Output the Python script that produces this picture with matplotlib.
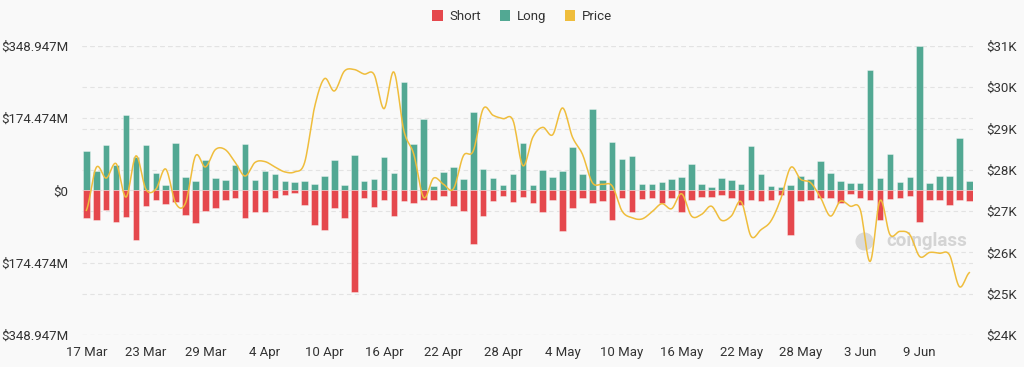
import numpy as np
import pandas as pd
import matplotlib
matplotlib.use("Agg")
import matplotlib.pyplot as plt
import matplotlib.dates as mdates
from matplotlib.patches import Patch

# daily liquidations (millions USD) and BTC price (thousands USD)
dates = pd.date_range("2023-03-17", "2023-06-14", freq="D")
long_vals = [95, 47, 109, 62, 183, 82, 109, 43, 14, 115,
             33, 24, 73, 30, 25, 62, 112, 26, 47, 40,
             24, 21, 23, 16, 36, 74, 14, 85, 22, 27,
             80, 43, 261, 112, 172, 11, 44, 57, 28, 189,
             51, 30, 14, 40, 114, 14, 49, 33, 46, 105,
             39, 196, 25, 117, 76, 83, 15, 16, 20, 28,
             33, 63, 16, 8, 30, 26, 15, 107, 40, 12,
             8, 14, 35, 28, 71, 43, 22, 18, 17, 292,
             31, 88, 21, 32, 349, 19, 36, 34, 127, 24]
short_vals = [66, 72, 47, 75, 63, 119, 37, 24, 33, 27,
              59, 79, 50, 43, 22, 17, 66, 51, 51, 17,
              12, 7, 34, 83, 95, 42, 67, 246, 19, 40,
              22, 61, 25, 31, 23, 24, 14, 38, 49, 129,
              61, 26, 14, 27, 16, 30, 51, 23, 97, 42,
              19, 30, 25, 71, 18, 51, 20, 18, 30, 18,
              52, 22, 16, 15, 10, 19, 34, 22, 26, 23,
              12, 108, 25, 24, 17, 18, 30, 8, 18, 23,
              72, 21, 18, 13, 75, 22, 23, 36, 22, 25]
price = [27.02, 28.06, 27.80, 28.15, 27.34, 28.34, 27.53, 27.53, 28.02, 27.19,
         27.20, 28.34, 28.07, 28.49, 28.49, 28.18, 27.85, 28.18, 28.20, 28.07,
         27.95, 27.95, 28.18, 29.52, 30.21, 29.91, 30.39, 30.43, 30.32, 30.31,
         29.48, 30.37, 28.95, 28.38, 27.33, 27.80, 27.65, 27.54, 28.34, 28.46,
         29.48, 29.32, 29.24, 29.20, 28.10, 28.79, 29.03, 28.85, 29.50, 28.79,
         28.38, 27.69, 27.65, 27.61, 27.00, 26.84, 26.81, 26.98, 27.18, 27.06,
         27.42, 26.88, 26.92, 27.12, 26.78, 26.88, 27.23, 26.39, 26.55, 26.76,
         27.30, 28.06, 27.77, 27.69, 27.33, 26.88, 27.24, 27.12, 27.04, 25.78,
         27.26, 26.43, 26.51, 26.43, 25.90, 26.00, 25.98, 25.94, 25.17, 25.51]

left_ticks = [-348.947, -174.474, 0, 174.474, 348.947]
right_ticks = [24, 25, 26, 27, 28, 29, 30, 31]

RED = "#e5484d"
GREEN = "#52a893"
YELLOW = "#efbd3c"
BG = "#f9f9f9"
TXT = "#333333"
GRID = "#e3e3e3"

plt.rcParams["font.family"] = ["Roboto", "DejaVu Sans"]


def smooth(x, y, k=12):
    # catmull-rom curve through the daily points, just for drawing
    x = np.asarray(x, float)
    y = np.asarray(y, float)
    yp = np.concatenate([[y[0]], y, [y[-1]]])
    t = np.linspace(0, 1, k, endpoint=False)
    xs, ys = [], []
    for i in range(len(y) - 1):
        p0, p1, p2, p3 = yp[i], yp[i + 1], yp[i + 2], yp[i + 3]
        seg = 0.5 * (2 * p1 + (-p0 + p2) * t + (2 * p0 - 5 * p1 + 4 * p2 - p3) * t ** 2
                     + (-p0 + 3 * p1 - 3 * p2 + p3) * t ** 3)
        xs.append(x[i] + (x[i + 1] - x[i]) * t)
        ys.append(seg)
    xs.append([x[-1]])
    ys.append([y[-1]])
    return np.concatenate(xs), np.concatenate(ys)


def money(v):
    if v == 0:
        return "$0"
    return "$%.3fM" % abs(v)


fig = plt.figure(figsize=(10.24, 3.67), dpi=100, facecolor=BG)
ax = fig.add_axes([0.080, 0.0872, 0.870, 0.7875])
ax.set_facecolor(BG)
ax2 = ax.twinx()

xnum = mdates.date2num(dates)
ax.bar(xnum, long_vals, width=0.66, color=GREEN, edgecolor=(1, 1, 1, 0.5), linewidth=0.5, zorder=3)
ax.bar(xnum, [-v for v in short_vals], width=0.66, color=RED, edgecolor=(1, 1, 1, 0.5), linewidth=0.5, zorder=3)

ax.set_ylim(left_ticks[0], left_ticks[-1])
ax.set_xlim(xnum[0] - 0.45, xnum[-1] + 0.35)
ax.set_yticks(left_ticks)
ax.set_yticklabels([money(v) for v in left_ticks])

ax2.set_ylim(right_ticks[0], right_ticks[-1])
ax2.set_yticks(right_ticks)
ax2.set_yticklabels(["$%dK" % v for v in right_ticks])
sx, sy = smooth(xnum, price)
ax2.plot(sx, sy, color=YELLOW, lw=1.1, zorder=4)

# dashed grid for both y scales, kept under the bars
for v in left_ticks:
    f = (v - left_ticks[0]) / (left_ticks[-1] - left_ticks[0])
    ax.plot([0, 1], [f, f], transform=ax.transAxes, color=GRID, lw=0.8, ls=(0, (4, 3)), zorder=1)
for v in right_ticks:
    f = (v - right_ticks[0]) / (right_ticks[-1] - right_ticks[0])
    ax.plot([0, 1], [f, f], transform=ax.transAxes, color=GRID, lw=0.8, ls=(0, (4, 3)), zorder=1)

xt = xnum[::6][:15]
ax.set_xticks(xt)
ax.set_xticklabels([d.strftime("%-d %b") for d in dates[::6][:15]])

for a in (ax, ax2):
    for s in a.spines.values():
        s.set_visible(False)
    a.tick_params(length=0, labelsize=9.5, colors=TXT)
ax.tick_params(axis="x", pad=8)
ax.tick_params(axis="y", pad=10)
ax2.tick_params(axis="y", pad=10)

# watermark behind the bars
ax.text(0.948, 0.325, "coinglass", transform=ax.transAxes, fontsize=13.5, fontweight="bold",
        color="#d4d4d4", ha="center", va="center", zorder=2)
ax.plot([0.878], [0.325], transform=ax.transAxes, marker="o", ms=12, color="#dadada",
        ls="none", zorder=2)

handles = [Patch(facecolor=RED, edgecolor="none"),
           Patch(facecolor=GREEN, edgecolor="none"),
           Patch(facecolor=YELLOW, edgecolor="none")]
fig.legend(handles, ["Short", "Long", "Price"], loc="upper center", bbox_to_anchor=(0.51, 1.005),
           ncol=3, frameon=False, handlelength=0.8, handleheight=0.8, handletextpad=0.5,
           columnspacing=1.4, fontsize=9.5, labelcolor=TXT)

fig.savefig("out.png", dpi=100, facecolor=BG)
